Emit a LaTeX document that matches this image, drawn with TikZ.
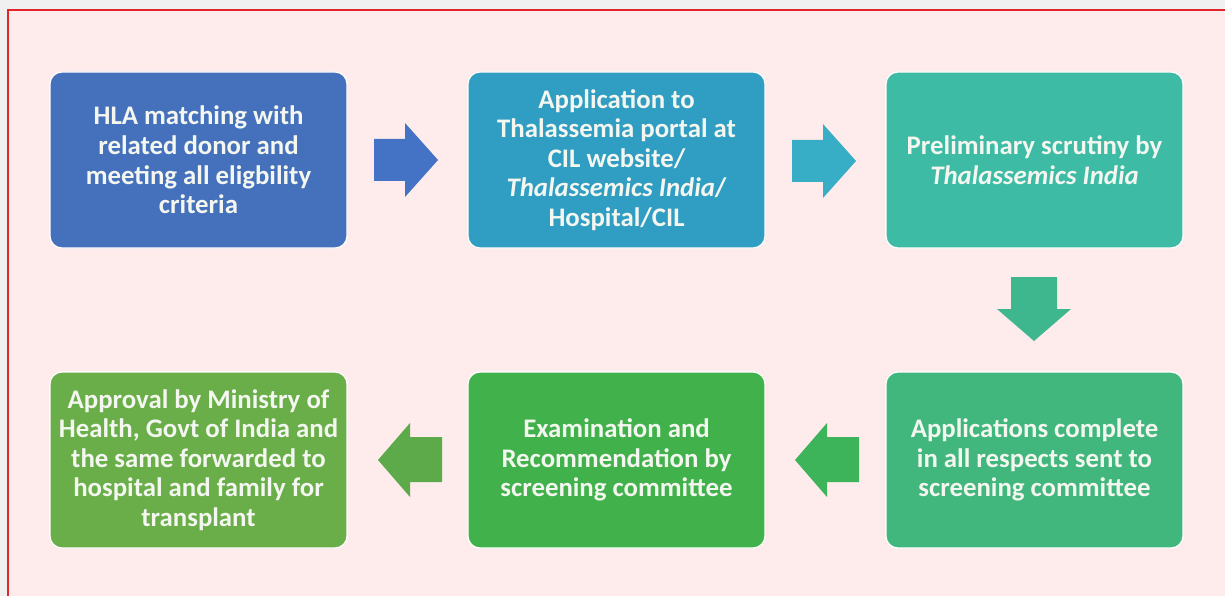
\documentclass[tikz,border=0pt]{standalone}
\usepackage{fontspec}
\setmainfont{Carlito}
\definecolor{bgpink}{HTML}{FDECEB}
\definecolor{outergray}{HTML}{F0F0F0}
\definecolor{framered}{HTML}{E0262B}
\definecolor{txt}{HTML}{F4F6F0}
\definecolor{cA}{HTML}{4571BC}
\definecolor{cB}{HTML}{309DC2}
\definecolor{cC}{HTML}{3DBBA5}
\definecolor{cD}{HTML}{42B77D}
\definecolor{cE}{HTML}{41B24B}
\definecolor{cF}{HTML}{69AE49}
\definecolor{aA}{HTML}{4472C4}
\definecolor{aB}{HTML}{38AEC6}
\definecolor{aC}{HTML}{3FB78E}
\definecolor{aD}{HTML}{3DB35A}
\definecolor{aE}{HTML}{5DAA4A}
\begin{document}
\begin{tikzpicture}[x=1pt,y=-1pt,
  box/.style={rounded corners=12pt, minimum width=297pt, minimum height=176pt,
    text=txt, align=center, inner sep=0pt, draw=white, line width=1.2pt,
    font=\bfseries\fontsize{26.8}{29.6}\selectfont}]
\useasboundingbox (0,0) rectangle (1225,596);
\fill[outergray] (0,0) rectangle (1225,596);
\fill[bgpink] (8,10) rectangle (1225,596);
\draw[framered, line width=2.2pt] (8,596) -- (8,10) -- (1225,10);

\node[box, fill=cA] (b1) at (198.5,160) {HLA matching with\\related donor and\\meeting all eligbility\\criteria};
\node[box, fill=cB] (b2) at (616.5,160) {Application to\\Thalassemia portal at\\CIL website/\\\textit{Thalassemics India}/\\Hospital/CIL};
\node[box, fill=cC] (b3) at (1034.5,160) {Preliminary scrutiny by\\\textit{Thalassemics India}};
\node[box, fill=cD] (b4) at (1034.5,460) {Applications complete\\in all respects sent to\\screening committee};
\node[box, fill=cE] (b5) at (616.5,460) {Examination and\\Recommendation by\\screening committee};
\node[box, fill=cF] (b6) at (198.5,460) {Approval by Ministry of\\Health, Govt of India and\\the same forwarded to\\hospital and family for\\transplant};

% right arrows
\fill[aA] (374,139) -- (405,139) -- (405,123) -- (438,160) -- (405,197) -- (405,181) -- (374,181) -- cycle;
\fill[aB] (792,140) -- (823,140) -- (823,124) -- (856,161) -- (823,198) -- (823,182) -- (792,182) -- cycle;
% down arrow
\fill[aC] (1011,277) -- (1057,277) -- (1057,309) -- (1071,309) -- (1034,341) -- (997,309) -- (1011,309) -- cycle;
% left arrows
\fill[aD] (859,437) -- (827,437) -- (827,423) -- (795,460) -- (827,497) -- (827,482) -- (859,482) -- cycle;
\fill[aE] (442,437) -- (410,437) -- (410,423) -- (378,460) -- (410,497) -- (410,482) -- (442,482) -- cycle;
\end{tikzpicture}
\end{document}
